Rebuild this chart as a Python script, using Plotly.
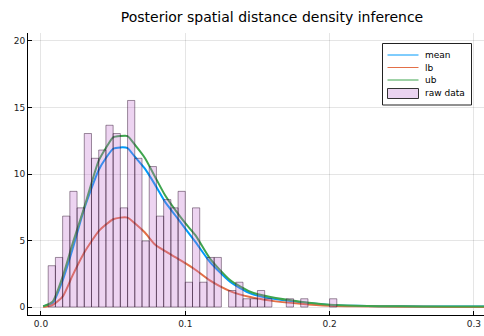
import plotly.graph_objects as go

# Histogram of observed distances (counts per 0.005-wide bin, first bin starts at 0.005)
bin_start = 0.005
bin_width = 0.005
counts = [5, 6, 11, 14, 12, 21, 18, 19, 22, 21,
          12, 25, 18, 8, 17, 11, 13, 12, 14, 3,
          12, 3, 6, 6, 0, 2, 3, 1, 1, 2,
          1, 0, 0, 1, 0, 1, 0, 0, 0, 1]

# Posterior density curves: mean and lower / upper bounds
dist = [0.0015, 0.008, 0.015, 0.022, 0.030, 0.040, 0.045, 0.050, 0.055, 0.060,
        0.065, 0.072, 0.079, 0.086, 0.093, 0.100, 0.107, 0.117, 0.131, 0.145,
        0.159, 0.180, 0.200, 0.218, 0.250, 0.280, 0.310]
mean = [0.05, 0.28, 2.0, 4.4, 7.4, 10.3, 11.2, 11.9, 12.0, 11.95,
        11.3, 10.4, 9.2, 7.9, 6.9, 5.9, 4.9, 3.4, 1.9, 1.03,
        0.65, 0.35, 0.16, 0.09, 0.05, 0.04, 0.03]
lb = [0.0, 0.15, 0.78, 2.4, 4.1, 5.7, 6.2, 6.6, 6.72, 6.72,
      6.3, 5.6, 4.7, 4.2, 3.75, 3.3, 2.8, 2.0, 1.2, 0.75,
      0.48, 0.25, 0.1, 0.05, 0.02, 0.01, 0.0]
ub = [0.05, 0.4, 2.28, 4.8, 7.5, 11.0, 11.95, 12.75, 12.85, 12.85,
      12.2, 11.2, 9.8, 8.4, 7.3, 6.3, 5.4, 3.66, 2.03, 1.15,
      0.75, 0.4, 0.17, 0.09, 0.05, 0.04, 0.03]

series_names = ["mean", "lb", "ub"]
series_colors = ["#009AFA", "#E36F47", "#3EA44E"]
hist_name = "raw data"
hist_fill = "rgba(195,113,210,0.3)"
hist_edge = "rgba(40,10,40,0.45)"

y_ticks = [0, 5, 10, 15, 20]
x_ticks = [0.0, 0.1, 0.2, 0.3]
x_tick_text = ["0.0", "0.1", "0.2", "0.3"]

# normalised histogram (pdf), drawn as closed rectangles so it sits above the curves
total = sum(counts)
hx, hy = [], []
for i, c in enumerate(counts):
    if c == 0:
        continue
    x0 = bin_start + i * bin_width
    x1 = x0 + bin_width
    d = c / (total * bin_width)
    hx += [x0, x0, x1, x1, x0, None]
    hy += [0, d, d, 0, 0, None]

fig = go.Figure()
for name, ys, col in zip(series_names, [mean, lb, ub], series_colors):
    fig.add_trace(go.Scatter(x=dist, y=ys, name=name, mode="lines",
                             line=dict(color=col, width=2, shape="spline", smoothing=0.6)))

fig.add_trace(go.Scatter(x=hx, y=hy, name=hist_name, mode="lines", fill="toself",
                         fillcolor=hist_fill, line=dict(color=hist_edge, width=1),
                         connectgaps=False))

# plot area in pixels, used to place the legend box
L, R, T, B = 28, 484, 33, 315


def px(x):
    return (x - L) / (R - L)


def py(y):
    return (B - y) / (B - T)


shapes = [dict(type="rect", xref="paper", yref="paper",
               x0=px(382.5), x1=px(471.5), y0=py(105), y1=py(43.5),
               line=dict(color="#222", width=1), fillcolor="white", layer="above")]
annotations = []
row_y = [55, 67.5, 80, 93.5]
for name, col, yy in zip(series_names, series_colors, row_y[:3]):
    shapes.append(dict(type="line", xref="paper", yref="paper",
                       x0=px(387.5), x1=px(418.5), y0=py(yy), y1=py(yy),
                       line=dict(color=col, width=1), layer="above"))
    annotations.append(dict(text=name, xref="paper", yref="paper", x=px(422.5), y=py(yy),
                            xanchor="left", yanchor="middle", showarrow=False,
                            font=dict(size=9, color="black")))
shapes.append(dict(type="rect", xref="paper", yref="paper",
                   x0=px(387.5), x1=px(418.5), y0=py(98.5), y1=py(88.5),
                   line=dict(color="#333", width=1), fillcolor="rgb(234,212,240)",
                   layer="above"))
annotations.append(dict(text=hist_name, xref="paper", yref="paper", x=px(422.5), y=py(row_y[3]),
                        xanchor="left", yanchor="middle", showarrow=False,
                        font=dict(size=9, color="black")))

font = "DejaVu Sans"
fig.update_layout(
    width=484, height=336,
    margin=dict(l=L, r=484 - R, t=T, b=336 - B),
    paper_bgcolor="white", plot_bgcolor="white",
    title=dict(text="Posterior spatial distance density inference",
               xref="container", x=272 / 484, xanchor="center",
               yref="container", y=1 - 17 / 336, yanchor="middle",
               font=dict(family=font, size=14, color="black")),
    font=dict(family=font, size=9, color="#222"),
    showlegend=False,
    shapes=shapes,
    annotations=annotations,
    xaxis=dict(range=[-0.009, 0.307], tickvals=x_ticks, ticktext=x_tick_text,
               showgrid=True, gridcolor="rgba(0,0,0,0.1)", gridwidth=1,
               zeroline=False, showline=True, linecolor="black", linewidth=1,
               ticks="inside", ticklen=4, tickcolor="black", mirror=False),
    yaxis=dict(range=[-0.6, 20.6], tickvals=y_ticks,
               showgrid=True, gridcolor="rgba(0,0,0,0.1)", gridwidth=1,
               zeroline=False, showline=True, linecolor="black", linewidth=1,
               ticks="inside", ticklen=4, tickcolor="black", mirror=False),
)

fig.write_html("out.html")
